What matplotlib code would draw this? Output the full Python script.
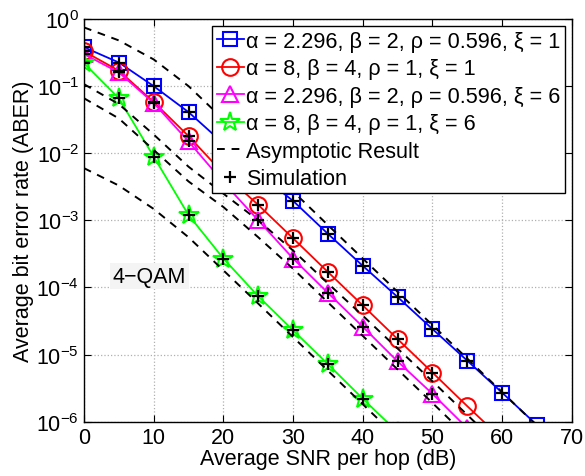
import numpy as np
import matplotlib
matplotlib.use('Agg')
import matplotlib.pyplot as plt

plt.rcParams['font.family'] = ['Liberation Sans', 'DejaVu Sans']

# SNR per hop (dB)
snr = [0, 5, 10, 15, 20, 25, 30, 35, 40, 45, 50, 55, 60, 65, 70]

# simulated / analytical ABER for each parameter set
ber_blue = [0.38, 0.225, 0.10, 0.041, 0.014, 0.005, 1.95e-3, 6.3e-4, 2.1e-4, 7.2e-5, 2.4e-5, 8.1e-6, 2.7e-6, 8.9e-7]
ber_red = [0.33, 0.17, 0.058, 0.018, 0.005, 1.7e-3, 5.4e-4, 1.7e-4, 5.4e-5, 1.7e-5, 5.4e-6, 1.7e-6, 5.5e-7]
ber_mag = [0.30, 0.16, 0.056, 0.015, 0.0037, 1.0e-3, 2.7e-4, 8.3e-5, 2.6e-5, 7.9e-6, 2.6e-6, 8.0e-7]
ber_green = [0.22, 0.066, 0.0089, 1.2e-3, 2.7e-4, 7.4e-5, 2.3e-5, 7.2e-6, 2.2e-6, 7.0e-7]

# asymptotic results
asy_blue = [0.75, 0.48, 0.25, 0.10, 0.032, 0.0095, 2.7e-3, 8.5e-4, 2.7e-4, 8.6e-5, 2.75e-5, 8.7e-6, 2.75e-6, 8.7e-7, 2.75e-7]
asy_red = [0.107, 0.054, 0.019, 6.3e-3, 2.5e-3, 1.0e-3, 3.55e-4, 1.15e-4, 3.8e-5, 1.23e-5, 4.0e-6, 1.26e-6, 4.0e-7, 1.26e-7, 4.0e-8]
asy_mag = [0.066, 0.033, 0.0112, 3.8e-3, 1.58e-3, 5.6e-4, 1.9e-4, 6.0e-5, 1.9e-5, 6.0e-6, 1.9e-6, 6.0e-7, 1.9e-7, 6.0e-8, 1.9e-8]
asy_green = [0.006, 0.0033, 1.48e-3, 5.6e-4, 1.8e-4, 5.75e-5, 1.82e-5, 5.75e-6, 1.82e-6, 5.75e-7, 1.82e-7, 5.75e-8, 1.8e-8, 5.75e-9, 1.8e-9]

# how many points of each curve have a simulation mark
n_sim = {'blue': 13, 'red': 11, 'mag': 11, 'green': 9}

labels = [r'α = 2.296, β = 2, ρ = 0.596, ξ = 1',
          r'α = 8, β = 4, ρ = 1, ξ = 1',
          r'α = 2.296, β = 2, ρ = 0.596, ξ = 6',
          r'α = 8, β = 4, ρ = 1, ξ = 6']

fig = plt.figure(figsize=(5.85, 4.77), dpi=100)
ax = fig.add_axes([0.1436, 0.1138, 0.834, 0.8442])

curves = [(ber_blue, '#0000ff', 's', 'blue'), (ber_red, '#ff0000', 'o', 'red'),
          (ber_mag, '#ff00ff', '^', 'mag'), (ber_green, '#00ff00', '*', 'green')]
ms = {'s': 10, 'o': 12, '^': 12, '*': 15}
handles = []
for (vals, c, mk, key), lab in zip(curves, labels):
    h, = ax.semilogy(snr[:len(vals)], vals, color=c, marker=mk, mfc='none', mec=c,
                     ms=ms[mk], mew=1.5, lw=1.3, label=lab)
    handles.append(h)

for a in [asy_blue, asy_red, asy_mag, asy_green]:
    hd, = ax.semilogy(snr, a, 'k--', lw=1.4, dashes=(4, 3.5), label='Asymptotic Result')
handles.append(hd)

for (vals, c, mk, key) in curves:
    n = n_sim[key]
    hs, = ax.semilogy(snr[:n], vals[:n], 'k+', ms=8, mew=1.6, ls='none', label='Simulation')
handles.append(hs)

ax.set_xlim(0, 70)
ax.set_ylim(1e-6, 1)
ax.set_xticks(range(0, 71, 10))
ax.set_yticks([10.0 ** k for k in range(-6, 1)])
ax.minorticks_off()
ax.tick_params(direction='in', top=True, right=True, labelsize=15.5, length=5, width=0.8)
ax.grid(True, ls=':', color='#b0b0b0', lw=0.9)
for s in ax.spines.values():
    s.set_linewidth(1.0)

ax.set_xlabel('Average SNR per hop (dB)', fontsize=15.5, labelpad=0)
ax.set_ylabel('Average bit error rate (ABER)', fontsize=15.5, labelpad=2)

ax.text(4.1, 10 ** -3.83, '4\u2212QAM', fontsize=15.5, va='center', ha='left',
        bbox=dict(facecolor='#f4f4f4', edgecolor='none', pad=2))

leg = ax.legend(handles=handles, loc='upper right', bbox_to_anchor=(0.985, 0.982),
                fontsize=15.6, fancybox=False, framealpha=1, edgecolor='k',
                borderpad=0.2, labelspacing=0.3, handlelength=1.25, handletextpad=0.1,
                borderaxespad=0)
leg.get_frame().set_linewidth(1.0)

fig.savefig('out.png', dpi=100)
